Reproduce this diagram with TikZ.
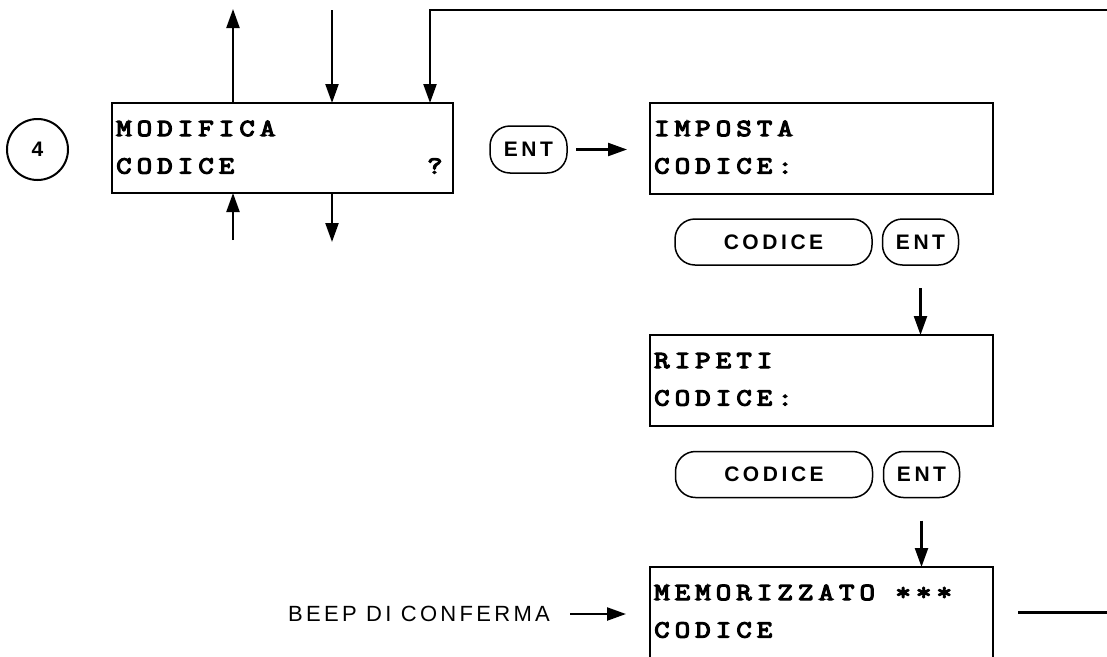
\documentclass[tikz,border=0pt]{standalone}
\usepackage{fontspec}
\setmainfont{Liberation Sans}
\newfontfamily\lcdfont{Latin Modern Mono}[FakeBold=5,FakeStretch=1.22,LetterSpace=21]
\newfontfamily\btnfont{Liberation Sans}[LetterSpace=17]
\newfontfamily\beepfont{Liberation Sans}[LetterSpace=15]
\usetikzlibrary{arrows.meta}
\tikzset{
  lcdbox/.style={draw, line width=2.5pt, inner sep=0pt, outer sep=0pt,
    minimum width=343pt, minimum height=91pt},
  lcdtxt/.style={font=\lcdfont\fontsize{24.5pt}{26pt}\selectfont,
    inner sep=0pt, anchor=base west},
  btn/.style={draw, line width=1.5pt, rounded corners=20pt, inner sep=0pt,
    outer sep=0pt, minimum height=46pt,
    font=\btnfont\bfseries\fontsize{21pt}{22pt}\selectfont},
  entbtn/.style={btn, minimum width=76pt},
  codbtn/.style={btn, minimum width=197pt},
  arr/.style={line width=2.3pt, -{Triangle[length=19pt,width=13pt]}},
  ln/.style={line width=2.3pt},
}
\begin{document}
\begin{tikzpicture}[x=1pt,y=-1pt]
\useasboundingbox (0,0) rectangle (1107,656);

% step number
\node[draw, circle, line width=2pt, minimum size=61pt, inner sep=0pt,
  font=\bfseries\fontsize{21pt}{22pt}\selectfont] (c4) at (37.5,149.5) {4};

% LCD boxes
\node[lcdbox, minimum width=341pt, minimum height=90pt] (b1) at (282.5,148) {};
\node[lcdbox] (b2) at (821.5,148.5) {};
\node[lcdbox] (b3) at (821.5,380.5) {};
\node[lcdbox] (b4) at (821.5,612.5) {};

\node[lcdtxt] (t1a) at ([xshift=4pt,yshift=-33pt]b1.north west) {MODIFICA};
\node[lcdtxt] (t1b) at ([xshift=4pt,yshift=-70.5pt]b1.north west) {CODICE};
\node[lcdtxt] (t1q) at ([xshift=315pt,yshift=-70.5pt]b1.north west) {?};

\node[lcdtxt] (t2a) at ([xshift=4pt,yshift=-33pt]b2.north west) {IMPOSTA};
\node[lcdtxt] (t2b) at ([xshift=4pt,yshift=-70.5pt]b2.north west) {CODICE:};

\node[lcdtxt] (t3a) at ([xshift=4pt,yshift=-33pt]b3.north west) {RIPETI};
\node[lcdtxt] (t3b) at ([xshift=4pt,yshift=-70.5pt]b3.north west) {CODICE:};

\node[lcdtxt] (t4a) at ([xshift=4pt,yshift=-33pt]b4.north west) {MEMORIZZATO ***};
\node[lcdtxt] (t4b) at ([xshift=4pt,yshift=-70.5pt]b4.north west) {CODICE};

% keys
\node[entbtn, minimum width=77pt, minimum height=47pt] (e1) at (528.5,149.5) {ENT};
\node[codbtn] (k1) at (773.5,242) {CODICE};
\node[entbtn] (e2) at (920.5,242) {ENT};
\node[codbtn] (k2) at (774,474.5) {CODICE};
\node[entbtn] (e3) at (921.5,474.5) {ENT};

% note
\node[font=\beepfont\fontsize{22pt}{24pt}\selectfont, inner sep=0pt] (beep)
  at (419,614) {BEEP DI CONFERMA};

% free ends
\coordinate (upT) at (233,9);
\coordinate (dnT) at (332,10);
\coordinate (loopT) at (430,10);
\coordinate (edgeT) at (1110,10);
\coordinate (upB) at (233,240);
\coordinate (dnB) at (332,242);
\coordinate (edgeB) at (1110,612.5);

% connectors around MODIFICA CODICE
\draw[arr] (b1.north -| upT) -- (upT);
\draw[arr] (dnT) -- (b1.north -| dnT);
\draw[arr] (edgeT) -- (loopT) -- (b1.north -| loopT);
\draw[arr] (upB) -- (b1.south -| upB);
\draw[arr] (b1.south -| dnB) -- (dnB);

% flow
\draw[arr, shorten <=9pt, shorten >=23pt] (e1.east) -- (e1.east -| b2.west);
\draw[arr, shorten <=23pt] (e2.south) -- (e2.south |- b3.north);
\draw[arr, shorten <=23pt] (e3.south) -- (e3.south |- b4.north);
\draw[arr, shorten <=20pt, shorten >=24pt] (beep.east) -- (beep.east -| b4.west);
\draw[ln, shorten <=25pt] (b4.east) -- (edgeB);
\end{tikzpicture}
\end{document}
